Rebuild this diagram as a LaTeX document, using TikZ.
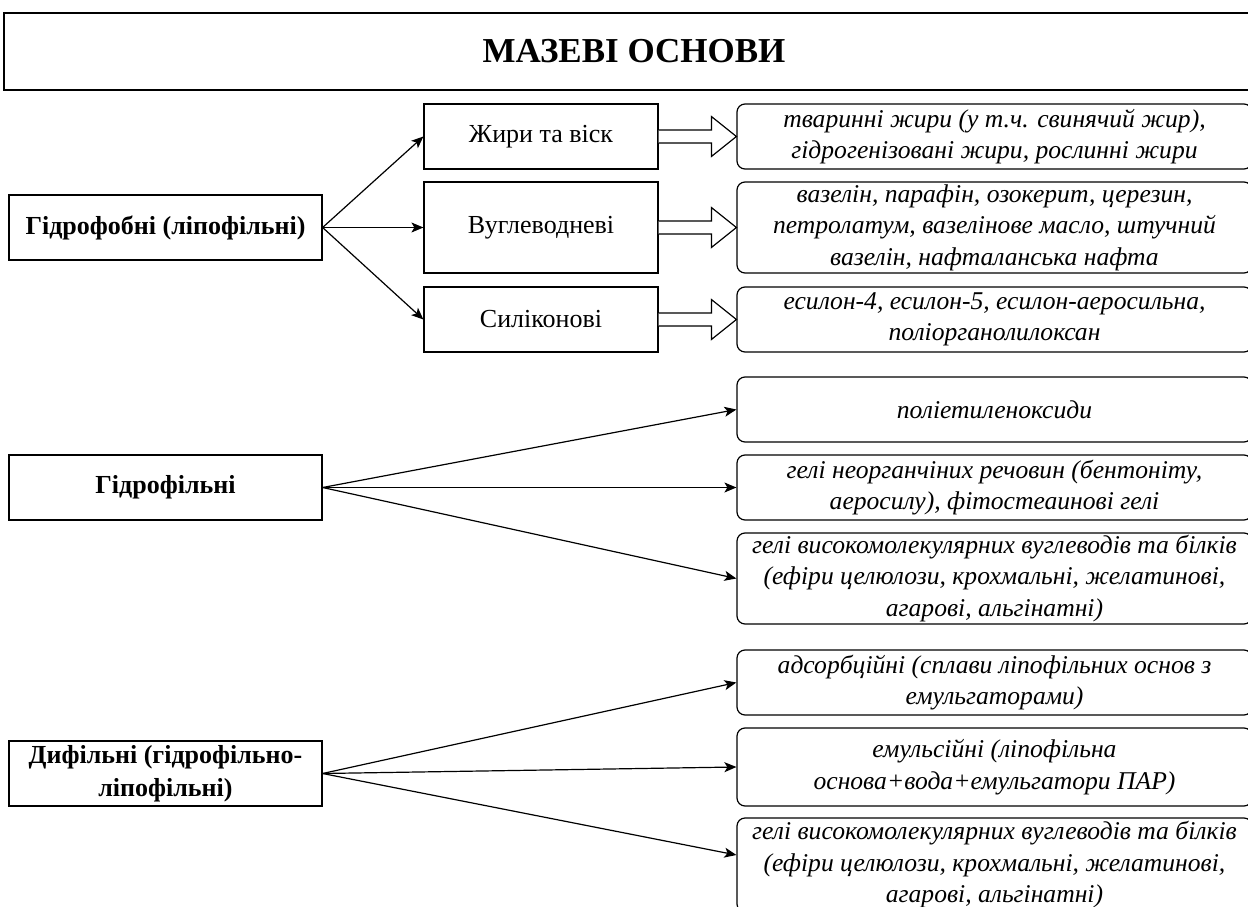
\documentclass[tikz,border=0pt]{standalone}
\usepackage{fontspec}
\setmainfont{Liberation Serif}
\usetikzlibrary{positioning,arrows.meta}

\begin{document}
\begin{tikzpicture}[
    x=1pt, y=-1pt,
    >={Stealth[length=12pt,width=10pt,inset=3pt]},
    every node/.style={draw,line width=1.2pt,inner sep=0pt,align=center,font=\fontsize{26}{31.5}\selectfont},
    grp/.style={minimum width=313pt,minimum height=65pt,font=\fontsize{26}{33}\selectfont\bfseries},
    kind/.style={minimum width=234pt,minimum height=65pt},
    lst/.style={rounded corners=8pt,minimum width=515pt,minimum height=65pt,font=\fontsize{25.6}{31.5}\selectfont\itshape},
    lnk/.style={->,line width=1.2pt},
    blk/.style={line width=1.2pt,fill=white},
  ]
  \useasboundingbox (0,0) rectangle (1248,907);
  \clip (0,0) rectangle (1248,907);

  % Title
  \node[minimum width=1260pt,minimum height=77pt,font=\fontsize{35}{40}\selectfont\bfseries] (title) at (634,51.5) {МАЗЕВІ ОСНОВИ};

  % Hydrophobic
  \node[grp] (phob) at (165.5,227.5) {Гідрофобні (ліпофільні)};
  \node[kind] (fat) at (541,136.5) {Жири та віск};
  \node[kind,minimum height=91pt] (hyd) at (541,227.5) {Вуглеводневі};
  \node[kind] (sil) at (541,319.5) {Силіконові};
  \node[lst] (fatL) at (994.5,136.5) {тваринні жири (у т.ч. свинячий жир),\\гідрогенізовані жири, рослинні жири};
  \node[lst,minimum height=91pt] (hydL) at (994.5,227.5) {вазелін, парафін, озокерит, церезин,\\петролатум, вазелінове масло, штучний\\вазелін, нафталанська нафта};
  \node[lst] (silL) at (994.5,319.5) {есилон-4, есилон-5, есилон-аеросильна,\\поліорганолилоксан};
  \draw[lnk] (phob.east) -- (fat.west);
  \draw[lnk] (phob.east) -- (hyd.west);
  \draw[lnk] (phob.east) -- (sil.west);
  \foreach \a/\b in {fat/fatL,hyd/hydL,sil/silL}
    \draw[blk] ([yshift=6.5pt]\a.east) -- ([xshift=-25pt,yshift=6.5pt]\b.west)
      -- ([xshift=-25pt,yshift=20pt]\b.west) -- (\b.west)
      -- ([xshift=-25pt,yshift=-20pt]\b.west) -- ([xshift=-25pt,yshift=-6.5pt]\b.west)
      -- ([yshift=-6.5pt]\a.east);

  % Hydrophilic
  \node[grp] (phil) at (165.5,487.5) {Гідрофільні};
  \node[lst] (peo) at (994.5,409.5) {поліетиленоксиди};
  \node[lst] (inorg) at (994.5,487.5) {гелі неорганчіних речовин (бентоніту,\\аеросилу), фітостеаинові гелі};
  \node[lst,minimum height=91pt] (hmw) at (994.5,578.5) {гелі високомолекулярних вуглеводів та білків\\(ефіри целюлози, крохмальні, желатинові,\\агарові, альгінатні)};
  \draw[lnk] (phil.east) -- (peo.west);
  \draw[lnk] (phil.east) -- (inorg.west);
  \draw[lnk] (phil.east) -- (hmw.west);

  % Diphilic
  \node[grp] (diph) at (165.5,773.5) {Дифільні (гідрофільно-\\ліпофільні)};
  \node[lst] (ads) at (994.5,682.5) {адсорбційні (сплави ліпофільних основ з\\емульгаторами)};
  \node[lst,minimum height=78pt] (emul) at (994.5,767) {емульсійні (ліпофільна\\основа+вода+емульгатори ПАР)};
  \node[lst,minimum height=94pt] (hmw2) at (994.5,865) {гелі високомолекулярних вуглеводів та білків\\(ефіри целюлози, крохмальні, желатинові,\\агарові, альгінатні)};
  \draw[lnk] (diph.east) -- (ads.west);
  \draw[lnk] (diph.east) -- (emul.west);
  \draw[lnk] (diph.east) -- ([yshift=10pt]hmw2.west);
\end{tikzpicture}
\end{document}
